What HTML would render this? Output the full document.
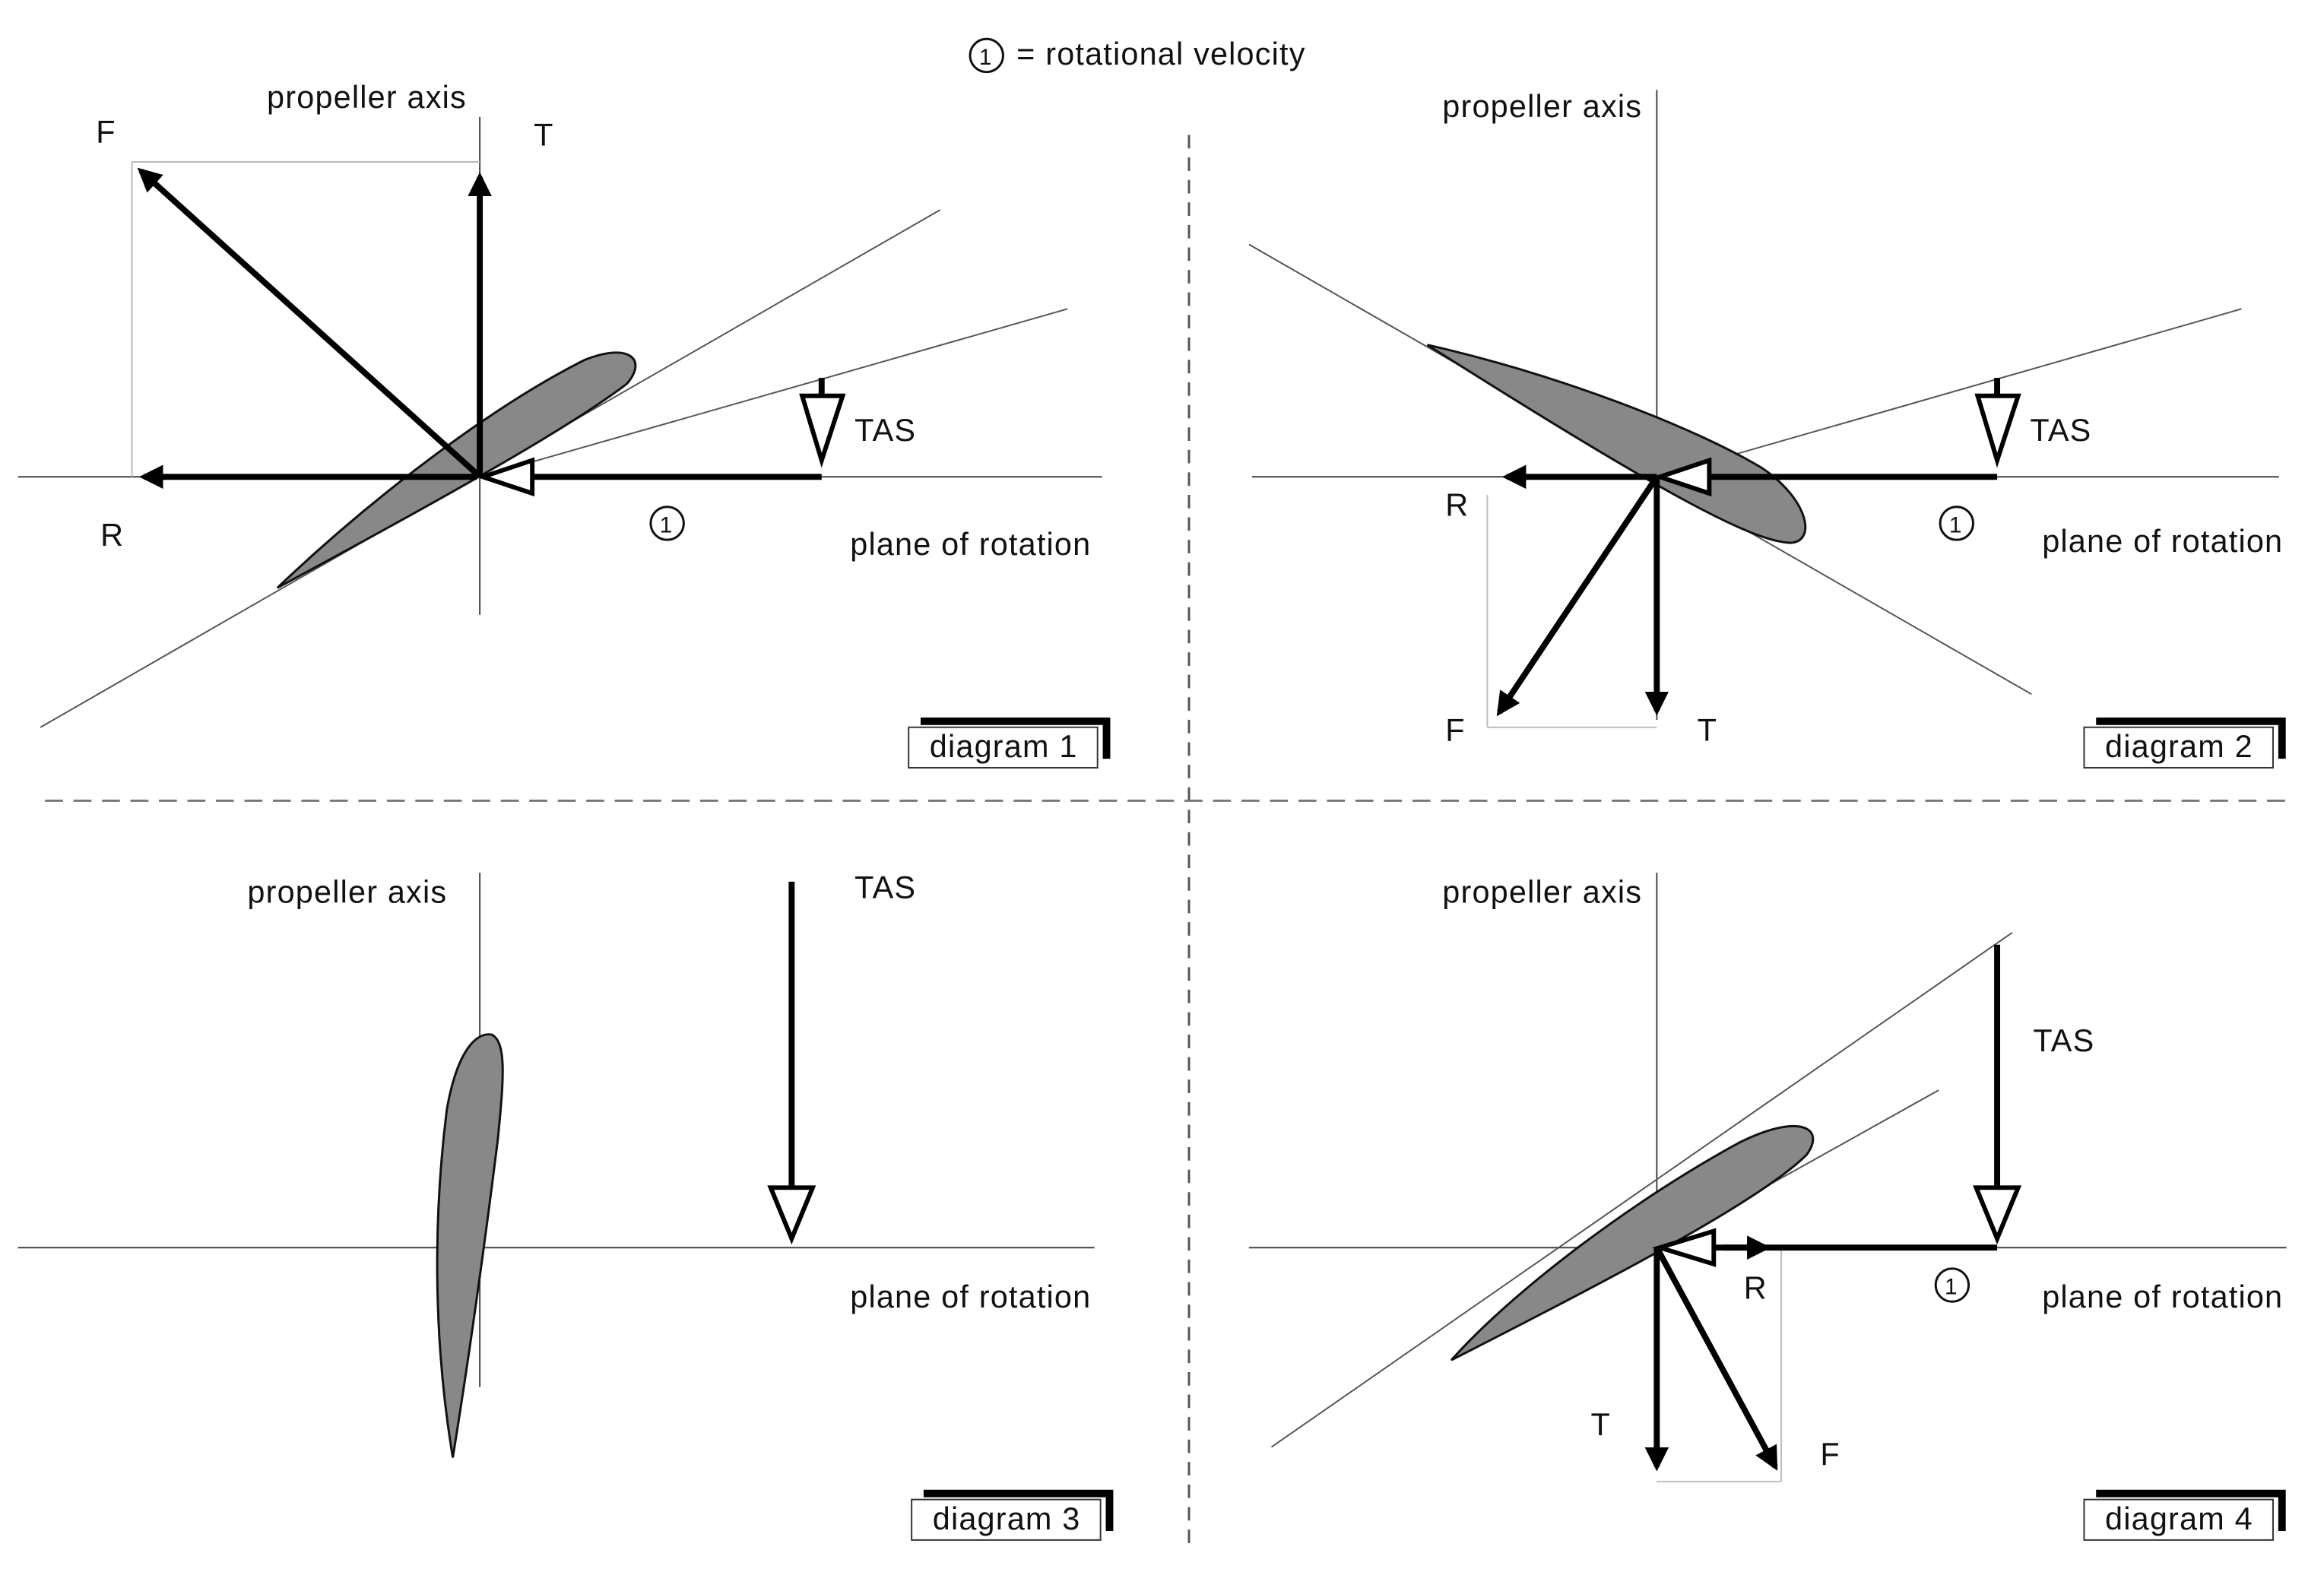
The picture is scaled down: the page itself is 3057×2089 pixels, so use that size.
<!DOCTYPE html>
<html><head><meta charset="utf-8"><style>
html,body{margin:0;padding:0;background:#fff;}
svg{display:block;}
text{font-family:"Liberation Sans",sans-serif;font-size:21px;letter-spacing:0.6px;fill:#111;}
</style></head><body>
<svg width="3057" height="2089" viewBox="0 0 1550 1059" preserveAspectRatio="none">
<defs>
<marker id="solid" viewBox="0 0 10 10" refX="8" refY="5" markerWidth="4" markerHeight="4" orient="auto-start-reverse"><path d="M0,0 L10,5 L0,10 z" fill="#000"/></marker>
</defs>
<rect width="1550" height="1059" fill="#fff"/>
<g>
<circle cx="658" cy="37" r="11" fill="none" stroke="#111" stroke-width="1.5"/>
<text x="653" y="43" style="font-size:15px;letter-spacing:0">1</text>
<text x="678" y="43">= rotational velocity</text>
</g>
<line x1="793" y1="90" x2="793" y2="1035" stroke="#555" stroke-width="1.5" stroke-dasharray="9,6"/>
<line x1="30" y1="534" x2="1525" y2="534" stroke="#777" stroke-width="1.5" stroke-dasharray="12,7"/>

<g>
<line x1="320" y1="78" x2="320" y2="410" stroke="#444" stroke-width="1"/>
<line x1="12" y1="318" x2="735" y2="318" stroke="#444" stroke-width="1"/>
<line x1="27" y1="485" x2="627" y2="140" stroke="#555" stroke-width="1"/>
<line x1="320" y1="318" x2="712" y2="206" stroke="#555" stroke-width="1"/>
<line x1="88" y1="108" x2="320" y2="108" stroke="#bbb" stroke-width="1"/>
<line x1="88" y1="108" x2="88" y2="318" stroke="#bbb" stroke-width="1"/>
<path d="M185,392 C250,330 330,270 390,240 C420,228 432,240 418,256 C380,285 300,330 185,392 z" fill="#888" stroke="#111" stroke-width="1.5"/>
<line x1="320" y1="318" x2="320" y2="118" stroke="#000" stroke-width="4" marker-end="url(#solid)"/>
<line x1="318" y1="316" x2="94" y2="114" stroke="#000" stroke-width="4" marker-end="url(#solid)"/>
<line x1="318" y1="318" x2="96" y2="318" stroke="#000" stroke-width="4" marker-end="url(#solid)"/>
<line x1="548" y1="318" x2="354" y2="318" stroke="#000" stroke-width="4"/>
<path d="M322,318 L355,307 L355,329 z" fill="#fff" stroke="#000" stroke-width="3"/>
<line x1="548" y1="252" x2="548" y2="264" stroke="#000" stroke-width="4"/>
<path d="M548,307 L535,264 L562,264 z" fill="#fff" stroke="#000" stroke-width="3"/>
<text x="178" y="72">propeller axis</text>
<text x="356" y="97">T</text>
<text x="64" y="95">F</text>
<text x="67" y="364">R</text>
<text x="570" y="294">TAS</text>
<circle cx="445" cy="349" r="11" fill="none" stroke="#111" stroke-width="1.5"/>
<text x="440" y="355" style="font-size:15px;letter-spacing:0">1</text>
<text x="567" y="370">plane of rotation</text>
<path d="M614,481 L738,481 L738,506" fill="none" stroke="#000" stroke-width="5"/>
<rect x="606" y="485" width="126" height="27" fill="#fff" stroke="#333" stroke-width="1"/>
<text x="620" y="505">diagram 1</text>
</g>

<g>
<line x1="1105" y1="60" x2="1105" y2="480" stroke="#444" stroke-width="1"/>
<line x1="835" y1="318" x2="1520" y2="318" stroke="#444" stroke-width="1"/>
<line x1="833" y1="163" x2="1355" y2="463" stroke="#555" stroke-width="1"/>
<line x1="1105" y1="318" x2="1495" y2="206" stroke="#555" stroke-width="1"/>
<line x1="992" y1="330" x2="992" y2="485" stroke="#bbb" stroke-width="1"/>
<line x1="992" y1="485" x2="1105" y2="485" stroke="#bbb" stroke-width="1"/>
<path d="M952,230 C1040,250 1130,285 1175,312 C1205,332 1212,360 1195,362 C1170,362 1110,330 952,230 z" fill="#888" stroke="#111" stroke-width="1.5"/>
<line x1="1105" y1="318" x2="1005" y2="318" stroke="#000" stroke-width="4" marker-end="url(#solid)"/>
<line x1="1105" y1="318" x2="1000" y2="475" stroke="#000" stroke-width="4" marker-end="url(#solid)"/>
<line x1="1105" y1="318" x2="1105" y2="474" stroke="#000" stroke-width="4" marker-end="url(#solid)"/>
<line x1="1332" y1="318" x2="1139" y2="318" stroke="#000" stroke-width="4"/>
<path d="M1107,318 L1140,307 L1140,329 z" fill="#fff" stroke="#000" stroke-width="3"/>
<line x1="1332" y1="252" x2="1332" y2="264" stroke="#000" stroke-width="4"/>
<path d="M1332,307 L1319,264 L1346,264 z" fill="#fff" stroke="#000" stroke-width="3"/>
<text x="962" y="78">propeller axis</text>
<text x="964" y="344">R</text>
<text x="964" y="494">F</text>
<text x="1132" y="494">T</text>
<text x="1354" y="294">TAS</text>
<circle cx="1305" cy="349" r="11" fill="none" stroke="#111" stroke-width="1.5"/>
<text x="1300" y="355" style="font-size:15px;letter-spacing:0">1</text>
<text x="1362" y="368">plane of rotation</text>
<path d="M1398,481 L1522,481 L1522,506" fill="none" stroke="#000" stroke-width="5"/>
<rect x="1390" y="485" width="126" height="27" fill="#fff" stroke="#333" stroke-width="1"/>
<text x="1404" y="505">diagram 2</text>
</g>

<g>
<line x1="320" y1="582" x2="320" y2="925" stroke="#444" stroke-width="1"/>
<line x1="12" y1="832" x2="730" y2="832" stroke="#444" stroke-width="1"/>
<path d="M302,972 C290,900 288,820 298,740 C305,700 318,688 328,690 C338,695 336,720 332,760 C322,840 312,910 302,972 z" fill="#888" stroke="#111" stroke-width="1.5"/>
<line x1="528" y1="588" x2="528" y2="792" stroke="#000" stroke-width="4"/>
<path d="M528,826 L514,792 L542,792 z" fill="#fff" stroke="#000" stroke-width="3"/>
<text x="165" y="602">propeller axis</text>
<text x="570" y="599">TAS</text>
<text x="567" y="872">plane of rotation</text>
<path d="M616,996 L740,996 L740,1021" fill="none" stroke="#000" stroke-width="5"/>
<rect x="608" y="1000" width="126" height="27" fill="#fff" stroke="#333" stroke-width="1"/>
<text x="622" y="1020">diagram 3</text>
</g>

<g>
<line x1="1105" y1="582" x2="1105" y2="840" stroke="#444" stroke-width="1"/>
<line x1="833" y1="832" x2="1525" y2="832" stroke="#444" stroke-width="1"/>
<line x1="848" y1="965" x2="1342" y2="622" stroke="#555" stroke-width="1"/>
<line x1="1105" y1="832" x2="1293" y2="727" stroke="#555" stroke-width="1"/>
<line x1="1188" y1="832" x2="1188" y2="988" stroke="#bbb" stroke-width="1"/>
<line x1="1105" y1="988" x2="1188" y2="988" stroke="#bbb" stroke-width="1"/>
<path d="M968,907 C1010,860 1090,800 1160,762 C1200,742 1218,752 1205,770 C1175,800 1080,850 968,907 z" fill="#888" stroke="#111" stroke-width="1.5"/>
<line x1="1105" y1="832" x2="1105" y2="978" stroke="#000" stroke-width="4" marker-end="url(#solid)"/>
<line x1="1105" y1="832" x2="1184" y2="978" stroke="#000" stroke-width="4" marker-end="url(#solid)"/>
<line x1="1332" y1="832" x2="1144" y2="832" stroke="#000" stroke-width="4"/>
<line x1="1150" y1="832" x2="1178" y2="832" stroke="#000" stroke-width="4" marker-end="url(#solid)"/>
<path d="M1107,832 L1143,821 L1143,843 z" fill="#fff" stroke="#000" stroke-width="3"/>
<line x1="1332" y1="630" x2="1332" y2="792" stroke="#000" stroke-width="4"/>
<path d="M1332,826 L1318,792 L1346,792 z" fill="#fff" stroke="#000" stroke-width="3"/>
<text x="962" y="602">propeller axis</text>
<text x="1163" y="866">R</text>
<text x="1061" y="957">T</text>
<text x="1214" y="977">F</text>
<text x="1356" y="701">TAS</text>
<circle cx="1302" cy="857" r="11" fill="none" stroke="#111" stroke-width="1.5"/>
<text x="1297" y="863" style="font-size:15px;letter-spacing:0">1</text>
<text x="1362" y="872">plane of rotation</text>
<path d="M1398,996 L1522,996 L1522,1021" fill="none" stroke="#000" stroke-width="5"/>
<rect x="1390" y="1000" width="126" height="27" fill="#fff" stroke="#333" stroke-width="1"/>
<text x="1404" y="1020">diagram 4</text>
</g>
</svg>
</body></html>
